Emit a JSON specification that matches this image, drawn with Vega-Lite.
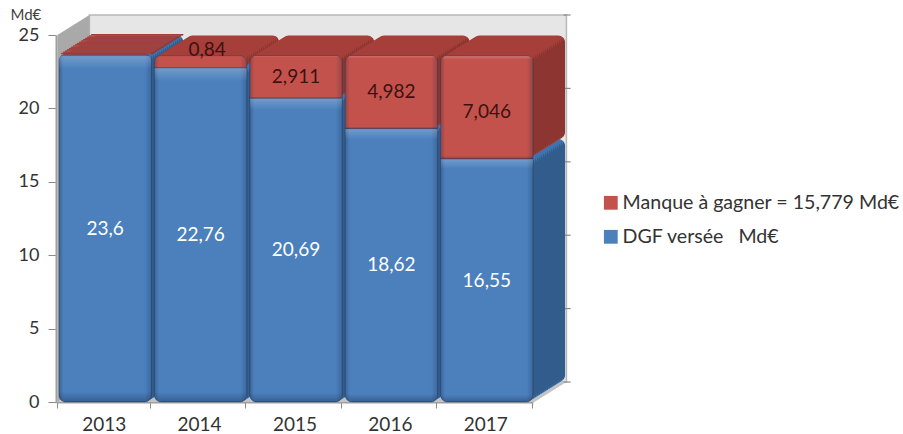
{
  "$schema": "https://vega.github.io/schema/vega-lite/v6.json",
  "width": 477,
  "height": 367,
  "autosize": "none",
  "padding": {"left": 56, "top": 35, "right": 370, "bottom": 32},
  "background": "white",
  "config": {
    "view": {"stroke": null},
    "font": "Lato",
    "axisX": {
      "tickBand": "extent", "labelAngle": 0, "labelFontSize": 19, "labelColor": "#333333", "labelPadding": 7,
      "domainColor": "#a0a0a0", "domainWidth": 2, "tickColor": "#8a8a8a", "tickSize": 6, "grid": false
    },
    "axisY": {
      "tickCount": 5, "grid": false, "labelFontSize": 18, "labelColor": "#333333", "labelPadding": 9,
      "domainColor": "#a0a0a0", "domainWidth": 2, "tickColor": "#8a8a8a", "tickSize": 8,
      "titleAngle": 0, "titleX": -46, "titleY": -21, "titleAlign": "left", "titleBaseline": "middle",
      "titleFontSize": 15, "titleFontWeight": "normal", "titleColor": "#444444"
    }
  },
  "data": {
    "values": [
      {"annee": "2013", "serie": "DGF versée\u00a0\u00a0 Md€", "rang": 1, "valeur": 23.6, "etiquette": "23,6"},
      {"annee": "2014", "serie": "DGF versée\u00a0\u00a0 Md€", "rang": 1, "valeur": 22.76, "etiquette": "22,76"},
      {"annee": "2015", "serie": "DGF versée\u00a0\u00a0 Md€", "rang": 1, "valeur": 20.69, "etiquette": "20,69"},
      {"annee": "2016", "serie": "DGF versée\u00a0\u00a0 Md€", "rang": 1, "valeur": 18.62, "etiquette": "18,62"},
      {"annee": "2017", "serie": "DGF versée\u00a0\u00a0 Md€", "rang": 1, "valeur": 16.55, "etiquette": "16,55"},
      {"annee": "2013", "serie": "Manque à gagner = 15,779 Md€", "rang": 2, "valeur": 0.1, "etiquette": ""},
      {"annee": "2014", "serie": "Manque à gagner = 15,779 Md€", "rang": 2, "valeur": 0.84, "etiquette": "0,84"},
      {"annee": "2015", "serie": "Manque à gagner = 15,779 Md€", "rang": 2, "valeur": 2.911, "etiquette": "2,911"},
      {"annee": "2016", "serie": "Manque à gagner = 15,779 Md€", "rang": 2, "valeur": 4.982, "etiquette": "4,982"},
      {"annee": "2017", "serie": "Manque à gagner = 15,779 Md€", "rang": 2, "valeur": 7.046, "etiquette": "7,046"}
    ]
  },
  "layer": [
    {
      "data": {"values": [{"annee": "2013", "n": 0}]},
      "encoding": {
        "x": {
          "field": "annee", "type": "nominal", "bandPosition": 0, "title": null,
          "scale": {"type": "band", "domain": ["2013", "2014", "2015", "2016", "2017"], "paddingInner": 0.03, "paddingOuter": 0.015}
        },
        "y": {
          "field": "n", "type": "quantitative", "title": "Md€",
          "scale": {"domain": [0, 25], "nice": false}
        }
      },
      "layer": [
        {"mark": {"type": "point", "filled": true, "opacity": 1, "size": 4, "color": "#e6e6e6", "stroke": "#b8b8b8", "strokeWidth": 1.5, "xOffset": 32, "yOffset": -20, "shape": "M0,0L477,0L477,-367L0,-367Z"}},
        {"mark": {"type": "point", "filled": true, "opacity": 1, "size": 4, "color": "#a9a9a9", "shape": "M0,0L32,-20L32,-387L0,-367Z"}},
        {"mark": {"type": "point", "filled": true, "opacity": 1, "size": 4, "color": "#c4c4c4", "shape": "M0,0L32,-20L509,-20L477,0Z"}}
      ]
    },
    {
      "data": {"values": [{"annee": "2017", "n": 0}, {"annee": "2017", "n": 5}, {"annee": "2017", "n": 10}, {"annee": "2017", "n": 15}, {"annee": "2017", "n": 20}, {"annee": "2017", "n": 25}]},
      "mark": {"type": "point", "filled": false, "opacity": 1, "size": 4, "stroke": "#8a8a8a", "strokeWidth": 1.2, "xOffset": 32, "yOffset": -20, "shape": "M0,0L7,0"},
      "encoding": {
        "x": {"field": "annee", "type": "nominal", "bandPosition": 1, "title": null},
        "y": {"field": "n", "type": "quantitative", "title": "Md€"}
      }
    },
    {
      "transform": [
        {"stack": "valeur", "groupby": ["annee"], "sort": [{"field": "rang", "order": "ascending"}], "as": ["bas", "haut"]}
      ],
      "encoding": {
        "x": {"field": "annee", "type": "nominal", "title": null},
        "y": {"field": "haut", "type": "quantitative", "title": "Md€"},
        "y2": {"field": "bas"},
        "fill": {
          "condition": {
            "test": "datum.rang === 2",
            "value": {"x1": 0, "y1": 0, "x2": 1, "y2": 0, "gradient": "linear", "stops": [
              {"offset": 0, "color": "#a63e39"}, {"offset": 0.975, "color": "#a63e39"},
              {"offset": 0.976, "color": "#8c3531"}, {"offset": 1, "color": "#8c3531"}
            ]}
          },
          "value": {"x1": 0, "y1": 0, "x2": 1, "y2": 0, "gradient": "linear", "stops": [
            {"offset": 0, "color": "#3d74b0"}, {"offset": 0.975, "color": "#3d74b0"},
            {"offset": 0.976, "color": "#325c8c"}, {"offset": 1, "color": "#325c8c"}
          ]}
        }
      },
      "layer": [
        {"mark": {"type": "bar", "cornerRadius": 7, "xOffset": 33.5, "yOffset": -20, "y2Offset": -20}},
        {"mark": {"type": "bar", "cornerRadius": 7, "xOffset": 31.5, "yOffset": -18.75, "y2Offset": -18.75}},
        {"mark": {"type": "bar", "cornerRadius": 7, "xOffset": 29.5, "yOffset": -17.5, "y2Offset": -17.5}},
        {"mark": {"type": "bar", "cornerRadius": 7, "xOffset": 27.5, "yOffset": -16.25, "y2Offset": -16.25}},
        {"mark": {"type": "bar", "cornerRadius": 7, "xOffset": 25.5, "yOffset": -15, "y2Offset": -15}},
        {"mark": {"type": "bar", "cornerRadius": 7, "xOffset": 23.5, "yOffset": -13.75, "y2Offset": -13.75}},
        {"mark": {"type": "bar", "cornerRadius": 7, "xOffset": 21.5, "yOffset": -12.5, "y2Offset": -12.5}},
        {"mark": {"type": "bar", "cornerRadius": 7, "xOffset": 19.5, "yOffset": -11.25, "y2Offset": -11.25}},
        {"mark": {"type": "bar", "cornerRadius": 7, "xOffset": 17.5, "yOffset": -10, "y2Offset": -10}},
        {"mark": {"type": "bar", "cornerRadius": 7, "xOffset": 15.5, "yOffset": -8.75, "y2Offset": -8.75}},
        {"mark": {"type": "bar", "cornerRadius": 7, "xOffset": 13.5, "yOffset": -7.5, "y2Offset": -7.5}},
        {"mark": {"type": "bar", "cornerRadius": 7, "xOffset": 11.5, "yOffset": -6.25, "y2Offset": -6.25}},
        {"mark": {"type": "bar", "cornerRadius": 7, "xOffset": 9.5, "yOffset": -5, "y2Offset": -5}},
        {"mark": {"type": "bar", "cornerRadius": 7, "xOffset": 7.5, "yOffset": -3.75, "y2Offset": -3.75}},
        {"mark": {"type": "bar", "cornerRadius": 7, "xOffset": 5.5, "yOffset": -2.5, "y2Offset": -2.5}},
        {"mark": {"type": "bar", "cornerRadius": 7, "xOffset": 3.5, "yOffset": -1.25, "y2Offset": -1.25}}
      ]
    },
    {
      "mark": {"type": "bar", "cornerRadius": 7, "xOffset": 1.5},
      "encoding": {
        "x": {"field": "annee", "type": "nominal", "title": null},
        "y": {"field": "valeur", "type": "quantitative", "stack": "zero", "title": "Md€"},
        "order": {"field": "rang"},
        "color": {
          "field": "serie", "type": "nominal",
          "scale": {"domain": ["Manque à gagner = 15,779 Md€", "DGF versée\u00a0\u00a0 Md€"], "range": ["#c4524c", "#4b80bd"]},
          "legend": {
            "title": null, "orient": "none", "legendX": 545, "legendY": 158,
            "symbolType": "square", "symbolSize": 190, "symbolStrokeWidth": 0, "labelFontSize": 19.6, "labelColor": "#333333",
            "labelOffset": 2, "rowPadding": 13, "labelLimit": 320
          }
        }
      }
    },
    {
      "encoding": {
        "x": {"field": "annee", "type": "nominal", "title": null},
        "y": {"field": "valeur", "type": "quantitative", "stack": "zero", "title": "Md€"},
        "detail": {"field": "serie"},
        "order": {"field": "rang"}
      },
      "layer": [
        {
          "mark": {
            "type": "bar", "cornerRadius": 7, "xOffset": 1.5, "stroke": "#23395a", "strokeOpacity": 0.35, "strokeWidth": 1,
            "fill": {"x1": 0, "y1": 0, "x2": 1, "y2": 0, "gradient": "linear", "stops": [
              {"offset": 0, "color": "rgba(20,30,60,0.28)"}, {"offset": 0.05, "color": "rgba(20,30,60,0)"},
              {"offset": 0.93, "color": "rgba(20,30,60,0)"}, {"offset": 1, "color": "rgba(20,30,60,0.25)"}
            ]}
          }
        },
        {
          "mark": {
            "type": "bar", "cornerRadius": 7, "xOffset": 1.5,
            "fill": {"x1": 0, "y1": 0, "x2": 0, "y2": 1, "gradient": "linear", "stops": [
              {"offset": 0, "color": "rgba(255,255,255,0.22)"}, {"offset": 0.04, "color": "rgba(255,255,255,0)"},
              {"offset": 0.97, "color": "rgba(20,30,60,0)"}, {"offset": 1, "color": "rgba(20,30,60,0.35)"}
            ]}
          }
        }
      ]
    },
    {
      "transform": [
        {"stack": "valeur", "groupby": ["annee"], "sort": [{"field": "rang", "order": "ascending"}], "as": ["bas", "haut"]},
        {"fold": ["bas", "haut"], "as": ["bord", "niveau"]},
        {"aggregate": [{"op": "mean", "field": "niveau", "as": "milieu"}], "groupby": ["annee", "serie", "rang", "etiquette"]},
        {"filter": "datum.etiquette !== ''"}
      ],
      "encoding": {
        "x": {"field": "annee", "type": "nominal", "title": null},
        "y": {"field": "milieu", "type": "quantitative", "title": "Md€"},
        "text": {"field": "etiquette"},
        "color": {"condition": {"test": "datum.rang === 2", "value": "#3c1210"}, "value": "#ffffff"}
      },
      "layer": [
        {"transform": [{"filter": "datum.etiquette !== '0,84' && datum.etiquette !== '7,046'"}], "mark": {"type": "text", "fontSize": 19, "xOffset": 1.5}},
        {"transform": [{"filter": "datum.etiquette === '0,84'"}], "mark": {"type": "text", "fontSize": 19, "xOffset": 8, "yOffset": -12}},
        {"transform": [{"filter": "datum.etiquette === '7,046'"}], "mark": {"type": "text", "fontSize": 19, "xOffset": 1.5, "yOffset": 5}}
      ]
    }
  ]
}
